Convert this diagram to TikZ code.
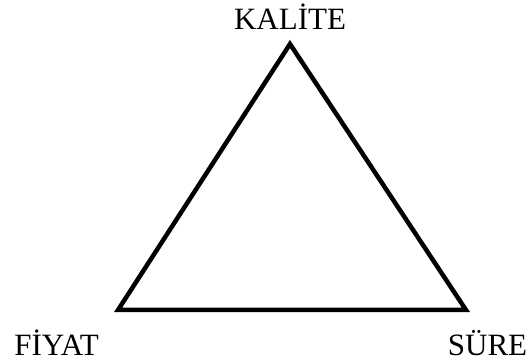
\documentclass[tikz,border=0pt]{standalone}
\usepackage{fontspec}
\setmainfont{Liberation Serif}
\begin{document}
\begin{tikzpicture}[x=1pt,y=1pt,
  lbl/.style={anchor=base,inner sep=0pt,font=\fontsize{31}{36}\selectfont},
  tri/.style={line width=4.5pt,line join=miter}]
\useasboundingbox (0,0) rectangle (530,364);
\coordinate (top) at (290,320);
\coordinate (left) at (118,54);
\coordinate (right) at (466,54);
\draw[tri] (top) -- (left) -- (right) -- cycle;
\node[lbl] (kalite) at (290,334) {KALİTE};
\node[lbl] (fiyat) at (56.5,9) {FİYAT};
\node[lbl] (sure) at (487.5,9) {SÜRE};
\end{tikzpicture}
\end{document}
